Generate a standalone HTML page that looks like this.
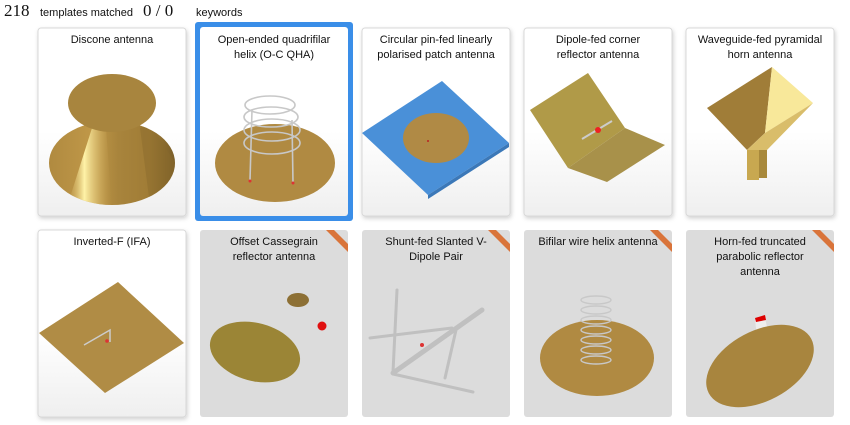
<!DOCTYPE html>
<html><head><meta charset="utf-8"><style>
html,body{margin:0;padding:0;background:#fff;width:850px;height:425px;overflow:hidden}
svg{display:block}
text{font-family:"Liberation Sans","DejaVu Sans",sans-serif;font-size:11px;fill:#111}
</style></head><body>
<svg width="850" height="425" viewBox="0 0 850 425" xmlns="http://www.w3.org/2000/svg">
<defs>
<linearGradient id="wg" x1="0" y1="0" x2="0" y2="1"><stop offset="0.55" stop-color="#fff"/><stop offset="1" stop-color="#efefef"/></linearGradient>
<linearGradient id="cone" x1="0" y1="0" x2="1" y2="0"><stop offset="0" stop-color="#b08a40"/><stop offset="0.35" stop-color="#c09848"/><stop offset="0.55" stop-color="#a8843c"/><stop offset="0.8" stop-color="#a07c36"/><stop offset="1" stop-color="#7a5e28"/></linearGradient>
<linearGradient id="streak" x1="0" y1="0" x2="1" y2="0"><stop offset="0" stop-color="#c8a050" stop-opacity="0"/><stop offset="0.4" stop-color="#fff3a8"/><stop offset="1" stop-color="#c8a050" stop-opacity="0"/></linearGradient>
<clipPath id="cc"><ellipse cx="112" cy="163" rx="63" ry="42"/></clipPath>
<filter id="sh" x="-10%" y="-10%" width="125%" height="125%"><feDropShadow dx="1" dy="2" stdDeviation="2" flood-color="#000" flood-opacity="0.18"/></filter>
</defs>
<text x="4" y="16" style="font-size:17px;font-family:'Liberation Serif',serif">218</text>
<text x="40" y="16">templates matched</text>
<text x="143" y="16" style="font-size:17px;font-family:'Liberation Serif',serif">0  /  0</text>
<text x="196" y="16">keywords</text>

<rect x="195" y="22" width="158" height="199" rx="3" fill="#3a8ee8"/>
<rect x="38" y="28" width="148" height="188" rx="3" fill="url(#wg)" stroke="#d8d8d8" filter="url(#sh)"/>
<rect x="200" y="27" width="148" height="189" rx="3" fill="url(#wg)"/>
<rect x="362" y="28" width="148" height="188" rx="3" fill="url(#wg)" stroke="#d8d8d8" filter="url(#sh)"/>
<rect x="524" y="28" width="148" height="188" rx="3" fill="url(#wg)" stroke="#d8d8d8" filter="url(#sh)"/>
<rect x="686" y="28" width="148" height="188" rx="3" fill="url(#wg)" stroke="#d8d8d8" filter="url(#sh)"/>
<rect x="38" y="230" width="148" height="187" rx="3" fill="url(#wg)" stroke="#d8d8d8" filter="url(#sh)"/>
<g fill="#dcdcdc">
<rect x="200" y="230" width="148" height="187" rx="3"/>
<rect x="362" y="230" width="148" height="187" rx="3"/>
<rect x="524" y="230" width="148" height="187" rx="3"/>
<rect x="686" y="230" width="148" height="187" rx="3"/>
</g>
<g fill="#d9743a">
<polygon points="326,230 334,230 348,244 348,252"/>
<polygon points="488,230 496,230 510,244 510,252"/>
<polygon points="650,230 658,230 672,244 672,252"/>
<polygon points="812,230 820,230 834,244 834,252"/>
</g>

<g text-anchor="middle">
<text x="112" y="43">Discone antenna</text>
<text x="274" y="43">Open-ended quadrifilar</text><text x="274" y="58">helix (O-C QHA)</text>
<text x="436" y="43">Circular pin-fed linearly</text><text x="436" y="58">polarised patch antenna</text>
<text x="598" y="43">Dipole-fed corner</text><text x="598" y="58">reflector antenna</text>
<text x="760" y="43">Waveguide-fed pyramidal</text><text x="760" y="58">horn antenna</text>
<text x="112" y="245">Inverted-F (IFA)</text>
<text x="274" y="245">Offset Cassegrain</text><text x="274" y="260">reflector antenna</text>
<text x="436" y="245">Shunt-fed Slanted V-</text><text x="436" y="260">Dipole Pair</text>
<text x="598" y="245">Bifilar wire helix antenna</text>
<text x="760" y="245">Horn-fed truncated</text><text x="760" y="260">parabolic reflector</text><text x="760" y="275">antenna</text>
</g>

<!-- discone -->
<ellipse cx="112" cy="163" rx="63" ry="42" fill="url(#cone)"/>
<polygon points="92,128 106,128 112,210 66,210" fill="url(#streak)" clip-path="url(#cc)"/>
<polygon points="140,128 150,124 180,170 175,205 150,205" fill="#8a6a2c" opacity="0.45" clip-path="url(#cc)"/>
<ellipse cx="112" cy="103" rx="44" ry="29" fill="#a8853e"/>

<!-- QHA -->
<ellipse cx="275" cy="163" rx="60" ry="39" fill="#b08a42"/>
<g fill="none" stroke="#c8c8c8" stroke-width="1.6">
<ellipse cx="270" cy="105" rx="25" ry="9"/>
<ellipse cx="271" cy="117" rx="27" ry="10"/>
<ellipse cx="272" cy="130" rx="28" ry="11"/>
<ellipse cx="272" cy="143" rx="28" ry="11"/>
<path d="M252,110 L250,180 M292,120 L293,183"/>
</g>
<circle cx="250" cy="181" r="1.5" fill="#d33"/><circle cx="293" cy="183" r="1.5" fill="#d33"/>

<!-- patch -->
<polygon points="362,133 442,81 509,143 428,195" fill="#4a90d8"/>
<polygon points="428,195 509,143 509,147 428,199" fill="#3b78b8"/>
<ellipse cx="436" cy="138" rx="33" ry="25" fill="#b08a45"/>
<circle cx="428" cy="141" r="1" fill="#b22"/>

<!-- corner reflector -->
<polygon points="530,110 588,73 625,128 568,168" fill="#b09a48"/>
<polygon points="568,168 625,128 665,145 607,182" fill="#a8914a"/>
<line x1="582" y1="139" x2="612" y2="121" stroke="#ccc" stroke-width="2"/>
<circle cx="598" cy="130" r="3" fill="#e22"/>

<!-- horn -->
<polygon points="707,108 772,67 765,133 747,150" fill="#a07d38"/>
<polygon points="772,67 813,103 765,133" fill="#f8e89a"/>
<polygon points="765,133 813,103 767,150 747,150" fill="#d9bd6a"/>
<rect x="747" y="150" width="12" height="30" fill="#c8a850"/>
<rect x="759" y="150" width="8" height="28" fill="#a8893c"/>

<!-- IFA -->
<polygon points="39,333 118,282 184,343 105,393" fill="#b08c45"/>
<path d="M84,345 L110,330 L110,342" fill="none" stroke="#ccc" stroke-width="1.5"/>
<circle cx="107" cy="341" r="1.8" fill="#d33"/>

<!-- cassegrain -->
<ellipse cx="298" cy="300" rx="11" ry="7" fill="#8d7035"/>
<circle cx="322" cy="326" r="4.5" fill="#e01010"/>
<ellipse cx="255" cy="352" rx="46" ry="29" transform="rotate(15 255 352)" fill="#9b8536"/>

<!-- V dipole -->
<g stroke="#c0c0c0" stroke-linecap="round">
<line x1="397" y1="290" x2="393" y2="372" stroke-width="3"/>
<line x1="370" y1="338" x2="452" y2="328" stroke-width="3"/>
<line x1="393" y1="373" x2="482" y2="310" stroke-width="5"/>
<line x1="456" y1="330" x2="445" y2="378" stroke-width="3"/>
<line x1="393" y1="374" x2="473" y2="392" stroke-width="3"/>
</g>
<circle cx="422" cy="345" r="2" fill="#d33"/>

<!-- bifilar helix -->
<ellipse cx="597" cy="358" rx="57" ry="38" fill="#b08a42"/>
<g fill="none" stroke="#c8c8c8" stroke-width="1.4">
<ellipse cx="596" cy="300" rx="15" ry="4"/><ellipse cx="596" cy="310" rx="15" ry="4"/>
<ellipse cx="596" cy="320" rx="15" ry="4"/><ellipse cx="596" cy="330" rx="15" ry="4"/>
<ellipse cx="596" cy="340" rx="15" ry="4"/><ellipse cx="596" cy="350" rx="15" ry="4"/>
<ellipse cx="596" cy="360" rx="15" ry="4"/>
</g>

<!-- parabolic -->
<polygon points="755,320 765,318 770,340 758,344" fill="#eee"/>
<polygon points="755,318 765,315 766,320 756,322" fill="#d00"/>
<ellipse cx="760" cy="366" rx="58" ry="35" transform="rotate(-28 760 366)" fill="#a8853e"/>
</svg>
</body></html>
